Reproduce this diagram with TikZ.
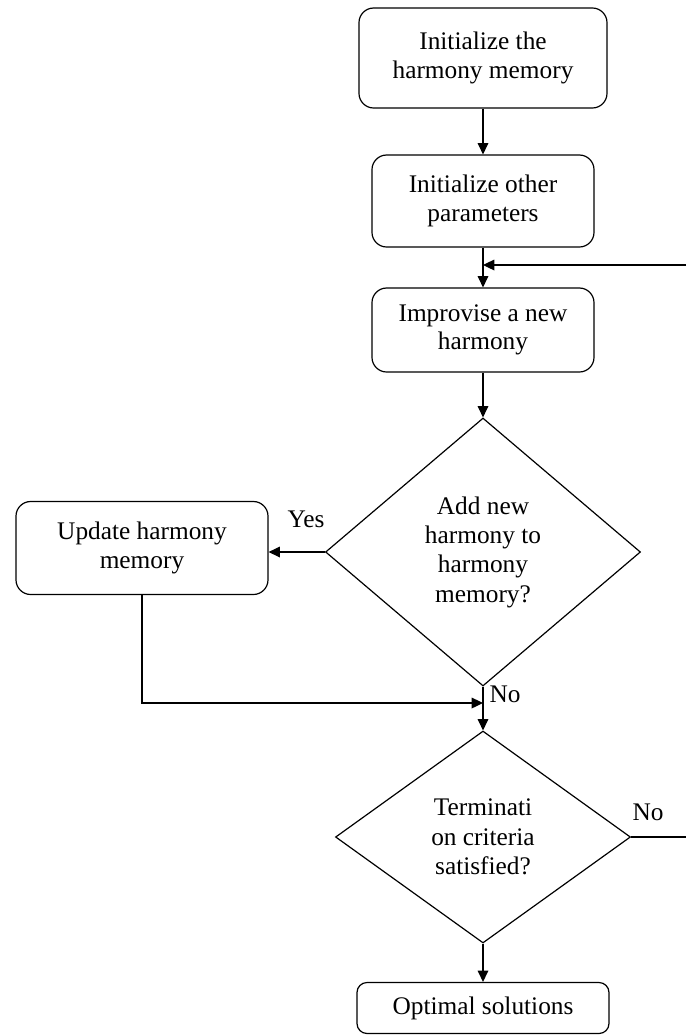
\documentclass[tikz,border=0pt]{standalone}
\usepackage{fontspec}
\setmainfont{Liberation Serif}
\usetikzlibrary{arrows.meta,shapes.geometric}
\begin{document}
\begin{tikzpicture}[x=0.75pt,y=-0.75pt,
    line width=0.9pt,
    >={Triangle[length=8.5pt,width=8pt]},
    box/.style={draw, rounded corners=11pt, inner sep=0pt, align=center,
      font=\fontsize{19}{21.5}\selectfont},
    decision/.style={draw, diamond, inner sep=0pt, align=center,
      font=\fontsize{19}{22}\selectfont},
    lbl/.style={font=\fontsize{19}{19}\selectfont}]
  \def\pu{0.75pt}
  \useasboundingbox (0,0) rectangle (686,1036);
  \node[box, minimum width=248*\pu, minimum height=100*\pu] (init) at (483,58) {Initialize the\\harmony memory};
  \node[box, minimum width=222*\pu, minimum height=92*\pu] (other) at (483,201) {Initialize other\\parameters};
  \node[box, minimum width=222*\pu, minimum height=84*\pu] (improv) at (483,330) {Improvise a new\\harmony};
  \node[decision, minimum width=315*\pu, minimum height=268*\pu] (add) at (483,552) {Add new\\harmony to\\harmony\\memory?};
  \node[box, minimum width=252*\pu, minimum height=93*\pu] (update) at (142,548) {Update harmony\\memory};
  \node[decision, minimum width=295*\pu, minimum height=212*\pu] (term) at (483,837) {Terminati\\on criteria\\satisfied?};
  \node[box, rounded corners=7.5pt, minimum width=252*\pu, minimum height=51*\pu] (opt) at (483,1008) {Optimal solutions};
  \coordinate (back) at (686,265);
  \coordinate (join) at (483,703);
  \coordinate (exit) at (686,837);
  \draw[->] (init) -- (other);
  \draw[->] (other) -- (improv);
  \draw[->] (back) -- (back -| improv.north);
  \draw[->] (improv) -- (add);
  \draw[->] (add.west) -- (add.west -| update.east);
  \node[lbl] (yes) at (306,519) {Yes};
  \draw[->] (update.south) |- (join);
  \draw[->] (add) -- (term);
  \node[lbl] (no1) at (505,694) {No};
  \draw (term.east) -- (exit);
  \node[lbl] (no2) at (648,812) {No};
  \draw[->] (term) -- (opt);
\end{tikzpicture}
\end{document}
